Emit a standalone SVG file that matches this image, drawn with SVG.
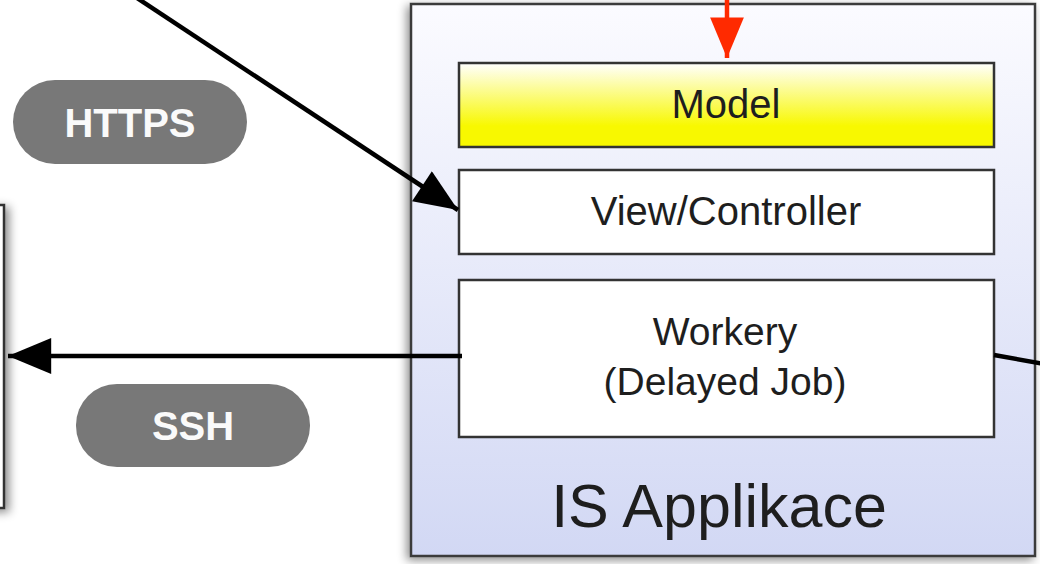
<svg xmlns="http://www.w3.org/2000/svg" width="1040" height="564" viewBox="0 0 1040 564">
  <style>
    .layer { stroke: #333; stroke-width: 2.5; }
    .label { font-family: "Liberation Sans", Arial, sans-serif; fill: #1e1e1e; text-anchor: middle; }
    .pill { fill: #787878; }
    .pill-text { font-family: "Liberation Sans", Arial, sans-serif; font-weight: bold; fill: #fafafa; text-anchor: middle; font-size: 40px; }
    .wire { stroke: #000; stroke-width: 4.5; fill: none; }
  </style>
  <defs>
    <linearGradient id="appFill" x1="0" y1="0" x2="0" y2="1">
      <stop offset="0" stop-color="#fbfbff"/>
      <stop offset="1" stop-color="#d2d8f4"/>
    </linearGradient>
    <linearGradient id="modelFill" x1="0" y1="0" x2="0" y2="1">
      <stop offset="0" stop-color="#ffffff"/>
      <stop offset="0.75" stop-color="#f8f800"/>
      <stop offset="1" stop-color="#f8f800"/>
    </linearGradient>
    <filter id="shadow" x="-10%" y="-10%" width="120%" height="120%">
      <feDropShadow dx="-3" dy="3" stdDeviation="5" flood-color="#000" flood-opacity="0.45"/>
    </filter>
    <filter id="shadowR" x="-50%" y="-10%" width="300%" height="120%">
      <feDropShadow dx="4" dy="3" stdDeviation="5" flood-color="#000" flood-opacity="0.45"/>
    </filter>
    <marker id="arrowBlack" viewBox="0 0 12 10" refX="12" refY="5" markerWidth="10" markerHeight="8" markerUnits="strokeWidth" orient="auto">
      <path d="M0,0 L12,5 L0,10 Z" fill="#000"/>
    </marker>
    <marker id="arrowRed" viewBox="0 0 12 10" refX="12" refY="5" markerWidth="10" markerHeight="7.5" markerUnits="strokeWidth" orient="auto">
      <path d="M0,0 L12,5 L0,10 Z" fill="#ff2a00"/>
    </marker>
  </defs>

  <rect width="1040" height="564" fill="#ffffff"/>

  <!-- external server, only its right edge is in view -->
  <g id="server">
    <rect x="-20" y="205" width="24" height="303" fill="#ffffff" stroke="#333" stroke-width="2.5" filter="url(#shadowR)"/>
  </g>

  <!-- application container -->
  <g id="is-applikace">
    <rect x="411" y="4" width="624" height="552" fill="url(#appFill)" stroke="#3a3a3a" stroke-width="2.5" filter="url(#shadow)"/>
    <text class="label" x="719" y="527" font-size="61">IS Applikace</text>
  </g>

  <g id="model">
    <rect class="layer" x="459" y="63" width="535" height="84" fill="url(#modelFill)"/>
    <text class="label" x="726" y="118" font-size="40">Model</text>
  </g>

  <g id="view-controller">
    <rect class="layer" x="459" y="170" width="535" height="84" fill="#ffffff"/>
    <text class="label" x="726" y="225" font-size="40">View/Controller</text>
  </g>

  <g id="workery">
    <rect class="layer" x="459" y="280" width="535" height="157" fill="#ffffff"/>
    <text class="label" x="725" y="345" font-size="39">Workery</text>
    <text class="label" x="725" y="395" font-size="39">(Delayed Job)</text>
  </g>

  <g id="https-label">
    <rect class="pill" x="13" y="80" width="234" height="84" rx="42"/>
    <text class="pill-text" x="130" y="137">HTTPS</text>
  </g>

  <g id="ssh-label">
    <rect class="pill" x="76" y="384" width="234" height="83" rx="41"/>
    <text class="pill-text" x="193" y="440">SSH</text>
  </g>

  <!-- connectors -->
  <g id="connectors">
    <line class="wire" x1="134" y1="-4" x2="458" y2="210" marker-end="url(#arrowBlack)"/>
    <line class="wire" x1="462" y1="356" x2="8" y2="356" marker-end="url(#arrowBlack)"/>
    <line class="wire" x1="994" y1="355" x2="1044" y2="364"/>
    <line x1="727" y1="-2" x2="727" y2="58" stroke="#ff2a00" stroke-width="4.5" marker-end="url(#arrowRed)"/>
  </g>
</svg>
